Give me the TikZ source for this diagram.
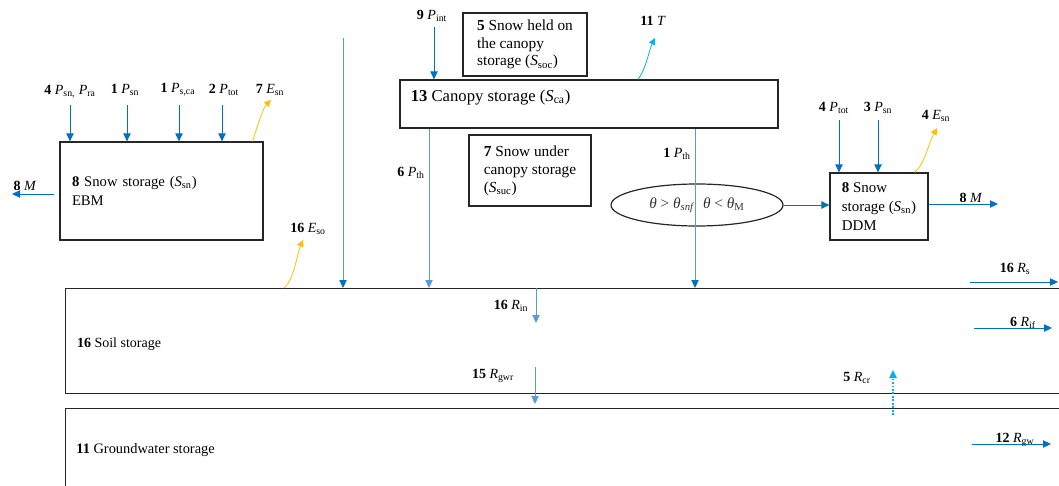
\documentclass[tikz,border=0pt]{standalone}
\usepackage{fontspec}
\setmainfont{Liberation Serif}
\usepackage{tikz}
\usetikzlibrary{arrows.meta,shapes.geometric}

\definecolor{flowblue}{RGB}{0,112,192}
\definecolor{lightflow}{RGB}{91,155,213}
\definecolor{evapor}{RGB}{255,192,0}
\definecolor{transp}{RGB}{0,176,240}
\newcommand{\fx}[3]{\textbf{#1} \textit{#2}\textsubscript{#3}}

\begin{document}
\begin{tikzpicture}[x=0.75pt,y=-0.75pt,
    every node/.style={font=\fontsize{10.5}{13}\selectfont},
    box/.style={draw=black!85,line width=0.9pt,align=left,inner sep=0pt},
    flow/.style={draw=flowblue,line width=0.7pt,-{Triangle[length=6pt,width=5.5pt]}},
    flowmix/.style={flow,draw=lightflow,-{Triangle[length=6pt,width=5.5pt,color=flowblue]}},
    flowlight/.style={flow,draw=lightflow},
    evap/.style={draw=evapor,line width=0.6pt,-{Triangle[length=5pt,width=5pt]}},
    trans/.style={evap,draw=transp},
    capil/.style={draw=transp,line width=1.3pt,dash pattern=on 1.3pt off 1.3pt,-{Triangle[length=6pt,width=5.5pt]}}]
    \useasboundingbox (0,0) rectangle (1059,485);
    \clip (0,0) rectangle (1059,485);

    % storages
    \node[box,minimum width=152.25pt,minimum height=73.5pt,text width=134.25pt,
        font=\fontsize{11}{14}\selectfont] (ebm) at (161.5,191)
        {\textbf{8} Snow storage (\textit{S}\textsubscript{sn})\\EBM};
    \node[box,minimum width=283.5pt,minimum height=36pt] (canopy) at (589,104) {};
    \node[anchor=west,font=\fontsize{12.5}{15}\selectfont] (canopytxt) at ([xshift=5pt,yshift=5pt]canopy.west)
        {\textbf{13} Canopy storage (\textit{S}\textsubscript{ca})};
    \node[box,minimum width=93pt,minimum height=47.25pt,font=\fontsize{11.5}{13.2}\selectfont] (held) at (525,44.5)
        {\textbf{5} Snow held on\\the canopy\\storage (\textit{S}\textsubscript{soc})};
    \node[box,minimum width=91.5pt,minimum height=53.25pt,font=\fontsize{11.5}{13.5}\selectfont] (under) at (530,170.5)
        {\textbf{7} Snow under\\canopy storage\\(\textit{S}\textsubscript{suc})};
    \node[box,minimum width=73.5pt,minimum height=50.25pt,font=\fontsize{11.2}{14.2}\selectfont] (ddm) at (879,206.5)
        {\textbf{8} Snow\\storage (\textit{S}\textsubscript{sn})\\DDM};
    \node[box,minimum width=765pt,minimum height=78.75pt,anchor=north west] (soil) at (65,288) {};
    \node[anchor=west] (soiltxt) at ([xshift=5.5pt,yshift=-2pt]soil.west) {\textbf{16} Soil storage};
    \node[box,minimum width=765pt,minimum height=61.5pt,anchor=north west] (gw) at (65,408) {};
    \node[anchor=west,font=\fontsize{10.8}{13}\selectfont] (gwtxt) at ([xshift=5pt]gw.west) {\textbf{11} Groundwater storage};
    \node[draw=black!85,line width=0.9pt,ellipse,minimum width=129pt,minimum height=31.5pt,
        inner sep=0pt,text=black!80,font=\fontsize{11.5}{13}\selectfont] (thr) at (697,205)
        {\textit{θ} > \textit{θ}\textsubscript{\textit{snf}}\hspace{6pt}\textit{θ} < \textit{θ}\textsubscript{M}};

    % flux labels
    \node (lpsn4) at (70,92) {\fx{4}{P}{sn,} \textit{P}\textsubscript{ra}};
    \node (lpsn1) at (125,90) {\fx{1}{P}{sn}};
    \node (lpsca) at (178,90) {\fx{1}{P}{s,ca}};
    \node (lptot2) at (224,90) {\fx{2}{P}{tot}};
    \node (lesn7) at (270,90) {\fx{7}{E}{sn}};
    \node (lm8a) at (25,186) {\textbf{8} \textit{M}};
    \node (leso) at (308,229) {\fx{16}{E}{so}};
    \node (lpint) at (432,16) {\fx{9}{P}{int}};
    \node (lt) at (653,21) {\textbf{11} \textit{T}};
    \node (lpth6) at (411,173) {\fx{6}{P}{th}};
    \node (lpth1) at (677,154) {\fx{1}{P}{th}};
    \node (lptot4) at (834,108) {\fx{4}{P}{tot}};
    \node (lpsn3) at (878,108) {\fx{3}{P}{sn}};
    \node (lesn4) at (936,116) {\fx{4}{E}{sn}};
    \node (lm8b) at (971,198) {\textbf{8} \textit{M}};
    \node (lrin) at (511,306) {\fx{16}{R}{in}};
    \node (lrgwr) at (493,376) {\fx{15}{R}{gwr}};
    \node (lrcr) at (857,378) {\fx{5}{R}{cr}};
    \node (lrs) at (1015,269) {\fx{16}{R}{s}};
    \node (lrif) at (1023,323) {\fx{6}{R}{if}};
    \node (lrgw) at (1015,440) {\fx{12}{R}{gw}};

    % free ends
    \coordinate (pa) at (70,105);
    \coordinate (pb) at (127,105);
    \coordinate (pc) at (179,105);
    \coordinate (pd) at (222,105);
    \coordinate (esn) at (271,100);
    \coordinate (mleft) at (12,194);
    \coordinate (eso) at (303,240);
    \coordinate (rain) at (343,38);
    \coordinate (pint) at (434,27);
    \coordinate (tout) at (655,38);
    \coordinate (th6) at (429,0);
    \coordinate (th1) at (695,0);
    \coordinate (ptot) at (839,120);
    \coordinate (psn) at (878,120);
    \coordinate (esnr) at (937,128);
    \coordinate (mout) at (998,204);
    \coordinate (rin) at (536,323);
    \coordinate (rgwr) at (535,367);
    \coordinate (rcrb) at (893,415);
    \coordinate (rcr) at (893,370);
    \coordinate (rs0) at (970,282);
    \coordinate (rs1) at (1058,282);
    \coordinate (rif0) at (974,328);
    \coordinate (rif1) at (1052,328);
    \coordinate (rgw0) at (972,444);
    \coordinate (rgw1) at (1051,444);

    % fluxes
    \draw[flow] (pa) -- (pa |- ebm.north);
    \draw[flow] (pb) -- (pb |- ebm.north);
    \draw[flow] (pc) -- (pc |- ebm.north);
    \draw[flow] (pd) -- (pd |- ebm.north);
    \draw[evap] ([xshift=-8.25pt]ebm.north east) .. controls +(5,-16) and +(-8,8) .. (esn);
    \draw[flow,shorten <=3.75pt] (ebm.west |- mleft) -- (mleft);
    \draw[evap] ([xshift=164.25pt]soil.north west) .. controls +(10,-8) and +(-6,14) .. (eso);
    \draw[flowmix] (rain) -- (rain |- soil.north);
    \draw[flow] (pint) -- (pint |- canopy.north);
    \draw[trans] ([xshift=36.75pt]canopy.north) .. controls +(8,-10) and +(-6,12) .. (tout);
    \draw[flowlight] (th6 |- canopy.south) -- (th6 |- soil.north);
    \draw[flowmix] (th1 |- canopy.south) -- (th1 |- soil.north);
    \draw[flow] (thr.east) -- (thr.east -| ddm.west);
    \draw[flow] (ptot) -- (ptot |- ddm.north);
    \draw[flow] (psn) -- (psn |- ddm.north);
    \draw[evap] ([xshift=-10.5pt]ddm.north east) .. controls +(10,-8) and +(-8,14) .. (esnr);
    \draw[flow] (ddm.east |- mout) -- (mout);
    \draw[flowlight] (rin |- soil.north) -- (rin);
    \draw[flowlight,shorten >=3pt] (rgwr) -- (rgwr |- gw.north);
    \draw[capil] (rcrb) -- (rcr);
    \draw[flow] (rs0) -- (rs1);
    \draw[flow] (rif0) -- (rif1);
    \draw[flow] (rgw0) -- (rgw1);
\end{tikzpicture}
\end{document}
